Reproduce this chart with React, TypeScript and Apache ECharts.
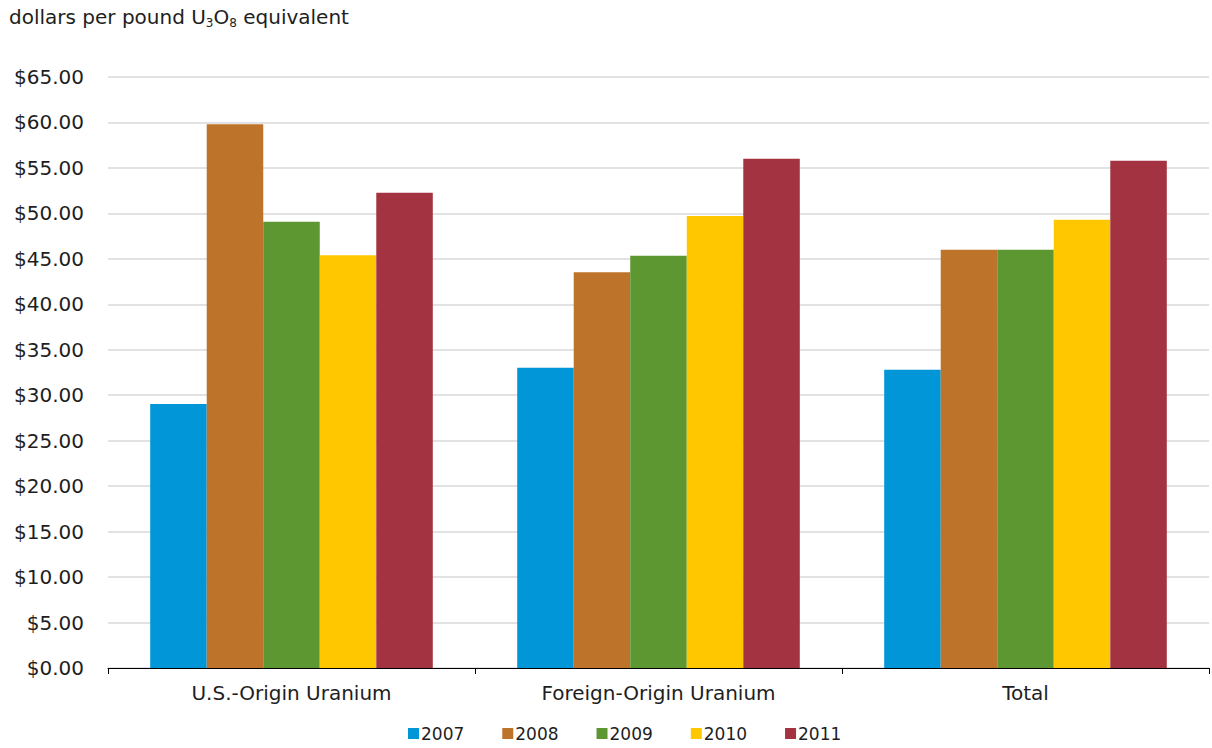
import React, { useEffect, useRef } from "react";
import * as echarts from "echarts";

const categories = ["U.S.-Origin Uranium", "Foreign-Origin Uranium", "Total"];
const years = ["2007", "2008", "2009", "2010", "2011"];
const values2007 = [29.04, 33.03, 32.81];
const values2008 = [59.8, 43.52, 46.01];
const values2009 = [49.09, 45.35, 46.0];
const values2010 = [45.39, 49.71, 49.31];
const values2011 = [52.28, 56.02, 55.8];
const seriesValues = [values2007, values2008, values2009, values2010, values2011];
const colors = ["#0096D7", "#BD732A", "#5D9732", "#FFC700", "#A33340"];

export default function App() {
  const ref = useRef<HTMLDivElement>(null);
  useEffect(() => {
    if (!ref.current) return;
    const chart = echarts.init(ref.current, undefined, { renderer: "svg" });
    const font = "'DejaVu Sans', 'Liberation Sans', Arial, sans-serif";
    const txt = "#1e1e1e";
    chart.setOption({
      animation: false,
      textStyle: { fontFamily: font },
      graphic: [
        {
          type: "text",
          left: 9,
          top: 7,
          style: {
            text: "dollars per pound U{sub|3}O{sub|8} equivalent",
            font: `20px ${font}`,
            fill: txt,
            rich: {
              sub: { fontSize: 12, fontFamily: font, fill: txt, padding: [11, 0, 0, 0] },
            },
          },
        },
      ],
      legend: {
        left: 403,
        bottom: 1,
        itemWidth: 11,
        itemHeight: 11,
        itemGap: 38,
        icon: "rect",
        textStyle: { fontSize: 17, color: txt, fontFamily: font, padding: [0, 0, 0, -3] },
        data: years,
      },
      grid: { left: 108, right: 3, top: 77, bottom: 80, containLabel: false },
      xAxis: {
        type: "category",
        data: categories,
        axisLine: { lineStyle: { color: "#000", width: 1 } },
        axisTick: { show: true, length: 6, lineStyle: { color: "#000" }, alignWithLabel: false },
        axisLabel: { fontSize: 20, color: txt, margin: 15, fontFamily: font },
      },
      yAxis: {
        type: "value",
        min: 0,
        max: 65,
        interval: 5,
        axisLine: { show: false },
        axisTick: { show: false },
        splitLine: { lineStyle: { color: "#d9d9d9", width: 1.5 } },
        axisLabel: {
          fontSize: 20,
          color: txt,
          margin: 24,
          fontFamily: font,
          formatter: (v: number) => "$" + v.toFixed(2),
        },
      },
      series: years.map((y, i) => ({
        name: y,
        type: "bar",
        data: seriesValues[i],
        barGap: "0%",
        barCategoryGap: "23%",
        itemStyle: { color: colors[i] },
      })),
    });
    return () => chart.dispose();
  }, []);
  return <div ref={ref} style={{ width: 1212, height: 748, position: "absolute", left: 0, top: 0 }} />;
}
